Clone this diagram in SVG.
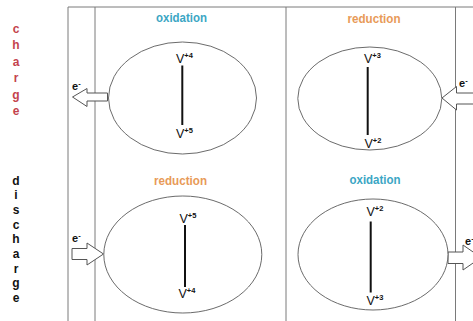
<svg xmlns="http://www.w3.org/2000/svg" width="473" height="321" viewBox="0 0 473 321">
<style>
.frame{stroke:#7a7a7a;stroke-width:1;fill:none}
.cell{fill:#ffffff;stroke:#5a5a5a;stroke-width:0.9}
.bar{stroke:#111;stroke-width:2}
.v{font-family:"Liberation Sans",Arial,sans-serif;font-size:12.5px;fill:#111}
.sup{font-size:7.5px;font-weight:bold}
.ox{font-family:"Liberation Sans",Arial,sans-serif;font-size:13px;font-weight:bold;fill:#3ba6c4;text-anchor:middle}
.red{font-family:"Liberation Sans",Arial,sans-serif;font-size:13px;font-weight:bold;fill:#e89a58;text-anchor:middle}
.arrow{fill:#ffffff;stroke:#555;stroke-width:1;stroke-linejoin:miter}
.el{font-family:"Liberation Sans",Arial,sans-serif;font-size:11px;font-weight:bold;fill:#111}
.side{font-family:"Liberation Sans",Arial,sans-serif;font-size:12px;font-weight:bold;text-anchor:middle}
</style>
<rect width="473" height="321" fill="#ffffff"/>
<g id="frame">
<line class="frame" x1="68" y1="7" x2="473" y2="7"/>
<line class="frame" x1="68" y1="7" x2="68" y2="321"/>
<line class="frame" x1="95" y1="7" x2="95" y2="321"/>
<line class="frame" x1="286" y1="7" x2="286" y2="321"/>
<line class="frame" x1="455.5" y1="7" x2="455.5" y2="321"/>
</g>
<g id="label-charge" class="side" fill="#c4434d">
<text x="16" y="32.5">c</text>
<text x="16" y="49">h</text>
<text x="16" y="65.5">a</text>
<text x="16" y="82">r</text>
<text x="16" y="98.5">g</text>
<text x="16" y="115">e</text>
</g>
<g id="label-discharge" class="side" fill="#111">
<text x="16" y="184.5">d</text>
<text x="16" y="199.2">i</text>
<text x="16" y="213.9">s</text>
<text x="16" y="228.6">c</text>
<text x="16" y="243.3">h</text>
<text x="16" y="258">a</text>
<text x="16" y="272.7">r</text>
<text x="16" y="287.4">g</text>
<text x="16" y="302.1">e</text>
</g>
<g id="connectors">
<polygon class="arrow" points="72.5,97 87,88.5 87,93 107.5,93 107.5,101 87,101 87,106.5"/>
<polygon class="arrow" points="442,98 456.5,86.5 456.5,93 476,93 476,104 456.5,104 456.5,110"/>
<polygon class="arrow" points="72,248.5 87,248.5 87,243 103.5,254 87,265 87,259.5 72,259.5"/>
<polygon class="arrow" points="448,252 463,252 463,245 481,257.5 463,270 463,263.5 448,263.5"/>
<text class="el" x="72" y="90">e<tspan class="sup" dy="-4">-</tspan></text>
<text class="el" x="459" y="87">e<tspan class="sup" dy="-4">-</tspan></text>
<text class="el" x="72" y="242">e<tspan class="sup" dy="-4">-</tspan></text>
<text class="el" x="465" y="245">e<tspan class="sup" dy="-4">-</tspan></text>
</g>
<g id="charge-positive">
<text class="ox" x="181.5" y="22" textLength="51" lengthAdjust="spacingAndGlyphs">oxidation</text>
<ellipse class="cell" cx="182.5" cy="98" rx="74" ry="56"/>
<line class="bar" x1="182.3" y1="65.5" x2="182.3" y2="125"/>
<text class="v" x="176" y="63">V<tspan class="sup" dy="-5">+4</tspan></text>
<text class="v" x="176" y="138">V<tspan class="sup" dy="-5">+5</tspan></text>
</g>
<g id="charge-negative">
<text class="red" x="374" y="23" textLength="53" lengthAdjust="spacingAndGlyphs">reduction</text>
<ellipse class="cell" cx="369.8" cy="98.5" rx="72" ry="51.5"/>
<line class="bar" x1="367.7" y1="67" x2="367.7" y2="135"/>
<text class="v" x="364" y="63">V<tspan class="sup" dy="-5">+3</tspan></text>
<text class="v" x="364.5" y="148">V<tspan class="sup" dy="-5">+2</tspan></text>
</g>
<g id="discharge-positive">
<text class="red" x="180.5" y="185" textLength="53" lengthAdjust="spacingAndGlyphs">reduction</text>
<ellipse class="cell" cx="182.8" cy="254.5" rx="79" ry="58.5"/>
<line class="bar" x1="185" y1="225" x2="185" y2="287"/>
<text class="v" x="179.5" y="223">V<tspan class="sup" dy="-5">+5</tspan></text>
<text class="v" x="178.5" y="298">V<tspan class="sup" dy="-5">+4</tspan></text>
</g>
<g id="discharge-negative">
<text class="ox" x="375" y="184" textLength="51" lengthAdjust="spacingAndGlyphs">oxidation</text>
<ellipse class="cell" cx="373" cy="254.5" rx="75" ry="55.5"/>
<line class="bar" x1="370.7" y1="221.5" x2="370.7" y2="292.5"/>
<text class="v" x="366.5" y="216">V<tspan class="sup" dy="-5">+2</tspan></text>
<text class="v" x="366.5" y="305">V<tspan class="sup" dy="-5">+3</tspan></text>
</g>
</svg>
